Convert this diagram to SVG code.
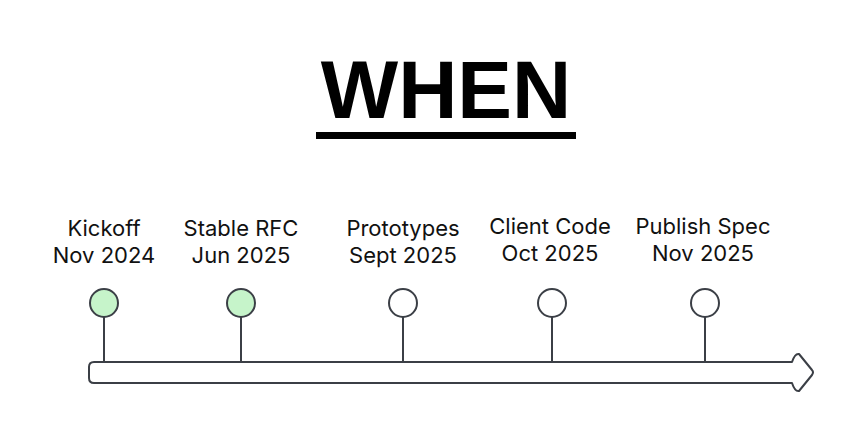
<svg xmlns="http://www.w3.org/2000/svg" width="855" height="436" viewBox="0 0 855 436">
  <style>
    .title { font-family: "Liberation Sans", Arial, sans-serif; font-weight: bold; font-size: 82px; fill: #000; }
    .label { font-family: Inter, "Noto Sans", sans-serif; font-size: 22px; fill: #111; text-anchor: middle; }
    .dot { stroke: #3b3f46; stroke-width: 2; }
    .done { fill: #c6f4ca; }
    .todo { fill: #ffffff; }
    .stem { stroke: #3b3f46; stroke-width: 2; fill: none; }
    .bar { fill: #ffffff; stroke: #3b3f46; stroke-width: 2; stroke-linejoin: round; }
  </style>
  <rect width="855" height="436" fill="#ffffff"/>

  <g id="title">
    <text class="title" x="446" y="118" text-anchor="middle">WHEN</text>
    <rect x="316" y="132" width="260" height="7" fill="#000"/>
  </g>

  <g id="connectors">
    <path class="bar" d="M94 362 H792 Q795 353 799 354 L812 370 Q814 372 812 375 L799 391 Q795 392 792 383 H94 Q89 383 89 378 V367 Q89 362 94 362 Z"/>
    <line class="stem" x1="104" y1="317" x2="104" y2="362"/>
    <line class="stem" x1="241" y1="317" x2="241" y2="362"/>
    <line class="stem" x1="403" y1="317" x2="403" y2="362"/>
    <line class="stem" x1="552" y1="317" x2="552" y2="362"/>
    <line class="stem" x1="705" y1="317" x2="705" y2="362"/>
  </g>

  <g id="kickoff">
    <circle class="dot done" cx="104" cy="303" r="14"/>
    <text class="label" x="104" y="236">Kickoff</text>
    <text class="label" x="104" y="263">Nov 2024</text>
  </g>
  <g id="stable-rfc">
    <circle class="dot done" cx="241" cy="303" r="14"/>
    <text class="label" x="241" y="236">Stable RFC</text>
    <text class="label" x="241" y="263">Jun 2025</text>
  </g>
  <g id="prototypes">
    <circle class="dot todo" cx="403" cy="303" r="14"/>
    <text class="label" x="403" y="236">Prototypes</text>
    <text class="label" x="403" y="263">Sept 2025</text>
  </g>
  <g id="client-code">
    <circle class="dot todo" cx="552" cy="303" r="14"/>
    <text class="label" x="550" y="234">Client Code</text>
    <text class="label" x="550" y="261">Oct 2025</text>
  </g>
  <g id="publish-spec">
    <circle class="dot todo" cx="705" cy="303" r="14"/>
    <text class="label" x="703" y="234">Publish Spec</text>
    <text class="label" x="703" y="261">Nov 2025</text>
  </g>
</svg>
